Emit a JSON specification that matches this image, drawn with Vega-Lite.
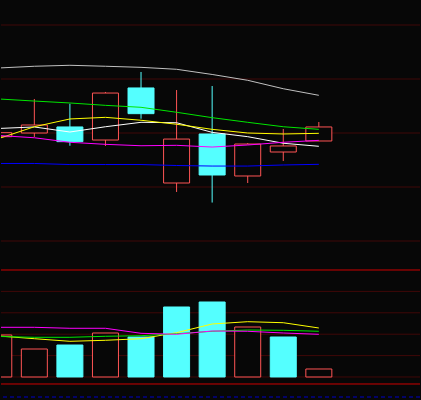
{
  "$schema": "https://vega.github.io/schema/vega-lite/v6.json",
  "width": 421,
  "height": 400,
  "autosize": {"type": "fit", "contains": "padding"},
  "padding": 0,
  "background": "#070707",
  "config": {"view": {"stroke": null}, "scale": {"continuousPadding": 0}},
  "datasets": {
    "candles": [
      {"i": 0, "open": 9.966, "high": 10.006, "low": 9.960, "close": 10.003, "vol": 1963, "dir": "up", "vdir": "up"},
      {"i": 1, "open": 10.000, "high": 10.315, "low": 9.963, "close": 10.074, "vol": 1308, "dir": "up", "vdir": "up"},
      {"i": 2, "open": 10.056, "high": 10.271, "low": 9.882, "close": 9.920, "vol": 1495, "dir": "down", "vdir": "down"},
      {"i": 3, "open": 9.935, "high": 10.380, "low": 9.880, "close": 10.370, "vol": 2056, "dir": "up", "vdir": "up"},
      {"i": 4, "open": 10.417, "high": 10.565, "low": 10.132, "close": 10.179, "vol": 1869, "dir": "down", "vdir": "down"},
      {"i": 5, "open": 9.537, "high": 10.398, "low": 9.454, "close": 9.944, "vol": 3271, "dir": "up", "vdir": "down"},
      {"i": 6, "open": 9.991, "high": 10.435, "low": 9.356, "close": 9.611, "vol": 3505, "dir": "down", "vdir": "down"},
      {"i": 7, "open": 9.602, "high": 9.907, "low": 9.537, "close": 9.898, "vol": 2336, "dir": "up", "vdir": "up"},
      {"i": 8, "open": 9.824, "high": 10.037, "low": 9.741, "close": 9.880, "vol": 1869, "dir": "up", "vdir": "down"},
      {"i": 9, "open": 9.926, "high": 10.102, "low": 9.926, "close": 10.056, "vol": 374, "dir": "up", "vdir": "up"}
    ],
    "ma": [
      {"i": 0, "MA5": 10.042, "MA10": 9.949, "MA20": 9.977, "MA30": 10.315, "MA60": 10.602, "MA120": 9.718},
      {"i": 1, "MA5": 10.056, "MA10": 10.058, "MA20": 9.956, "MA30": 10.296, "MA60": 10.618, "MA120": 9.718},
      {"i": 2, "MA5": 10.009, "MA10": 10.130, "MA20": 9.914, "MA30": 10.278, "MA60": 10.627, "MA120": 9.708},
      {"i": 3, "MA5": 10.058, "MA10": 10.145, "MA20": 9.895, "MA30": 10.256, "MA60": 10.618, "MA120": 9.708},
      {"i": 4, "MA5": 10.099, "MA10": 10.118, "MA20": 9.882, "MA30": 10.238, "MA60": 10.608, "MA120": 9.708},
      {"i": 5, "MA5": 10.095, "MA10": 10.081, "MA20": 9.886, "MA30": 10.192, "MA60": 10.590, "MA120": 9.699},
      {"i": 6, "MA5": 10.006, "MA10": 10.034, "MA20": 9.870, "MA30": 10.142, "MA60": 10.542, "MA120": 9.694},
      {"i": 7, "MA5": 9.966, "MA10": 10.000, "MA20": 9.889, "MA30": 10.099, "MA60": 10.488, "MA120": 9.694},
      {"i": 8, "MA5": 9.905, "MA10": 9.991, "MA20": 9.914, "MA30": 10.058, "MA60": 10.410, "MA120": 9.704},
      {"i": 9, "MA5": 9.877, "MA10": 9.997, "MA20": 9.932, "MA30": 10.034, "MA60": 10.349, "MA120": 9.710}
    ],
    "vma": [
      {"i": 0, "VMA5": 1916, "VMA10": 1893, "VMA20": 2322},
      {"i": 1, "VMA5": 1790, "VMA10": 1855, "VMA20": 2322},
      {"i": 2, "VMA5": 1668, "VMA10": 1855, "VMA20": 2276},
      {"i": 3, "VMA5": 1715, "VMA10": 1902, "VMA20": 2276},
      {"i": 4, "VMA5": 1790, "VMA10": 1930, "VMA20": 2042},
      {"i": 5, "VMA5": 2070, "VMA10": 2023, "VMA20": 1995},
      {"i": 6, "VMA5": 2477, "VMA10": 2136, "VMA20": 2150},
      {"i": 7, "VMA5": 2584, "VMA10": 2196, "VMA20": 2136},
      {"i": 8, "VMA5": 2537, "VMA10": 2182, "VMA20": 2056},
      {"i": 9, "VMA5": 2290, "VMA10": 2136, "VMA20": 1995}
    ],
    "pgrid": [{"p": 11.0}, {"p": 10.5}, {"p": 10.0}, {"p": 9.5}, {"p": 9.0}],
    "vgrid": [{"v": 0}, {"v": 1000}, {"v": 2000}, {"v": 3000}, {"v": 4000}],
    "vframe": [{"v": 5000}, {"v": -327}]
  },
  "layer": [
    {
      "layer": [
        {
          "data": {"name": "pgrid"},
          "mark": {"type": "rule", "color": "#400808", "strokeWidth": 1},
          "encoding": {
            "y": {"field": "p", "type": "quantitative", "axis": null, "scale": {"domain": [7.5278, 11.2315], "nice": false, "zero": false}}
          }
        },
        {
          "data": {"name": "candles"},
          "mark": {"type": "rule", "strokeWidth": 1, "clip": true},
          "encoding": {
            "x": {"field": "i", "type": "quantitative", "axis": null, "scale": {"domain": [0.0624, 11.845], "nice": false, "zero": false, "padding": 0}},
            "y": {"field": "low", "type": "quantitative", "axis": null, "scale": {"domain": [7.5278, 11.2315], "nice": false, "zero": false}},
            "y2": {"field": "high"},
            "stroke": {"field": "dir", "type": "nominal", "legend": null, "scale": {"domain": ["up", "down"], "range": ["#ff5555", "#54ffff"]}}
          }
        },
        {
          "data": {"name": "candles"},
          "mark": {"type": "bar", "size": 26, "strokeWidth": 1, "clip": true},
          "encoding": {
            "x": {"field": "i", "type": "quantitative", "axis": null, "scale": {"domain": [0.0624, 11.845], "nice": false, "zero": false, "padding": 0}},
            "y": {"field": "open", "type": "quantitative", "axis": null, "scale": {"domain": [7.5278, 11.2315], "nice": false, "zero": false}},
            "y2": {"field": "close"},
            "fill": {"field": "dir", "type": "nominal", "legend": null, "scale": {"domain": ["up", "down"], "range": ["#070707", "#54ffff"]}},
            "stroke": {"field": "dir", "type": "nominal", "legend": null, "scale": {"domain": ["up", "down"], "range": ["#ff5555", "#54ffff"]}}
          }
        },
        {
          "data": {"name": "ma"},
          "transform": [{"fold": ["MA5", "MA10", "MA20", "MA30", "MA60", "MA120"], "as": ["series", "value"]}],
          "mark": {"type": "line", "strokeWidth": 1, "clip": true},
          "encoding": {
            "x": {"field": "i", "type": "quantitative", "axis": null, "scale": {"domain": [0.0624, 11.845], "nice": false, "zero": false, "padding": 0}},
            "y": {"field": "value", "type": "quantitative", "axis": null, "scale": {"domain": [7.5278, 11.2315], "nice": false, "zero": false}},
            "color": {"field": "series", "type": "nominal", "legend": null, "scale": {"domain": ["MA5", "MA10", "MA20", "MA30", "MA60", "MA120", "VMA5", "VMA10", "VMA20"], "range": ["#ffffff", "#ffff00", "#ff00ff", "#00e600", "#c0c0c0", "#0000ff", "#ffff00", "#00e600", "#ff00ff"]}}
          }
        }
      ]
    },
    {
      "layer": [
        {
          "data": {"name": "vgrid"},
          "mark": {"type": "rule", "color": "#400808", "strokeWidth": 1},
          "encoding": {
            "y": {"field": "v", "type": "quantitative", "axis": null, "scale": {"domain": [-1075, 17617], "nice": false, "zero": false}}
          }
        },
        {
          "data": {"name": "vframe"},
          "mark": {"type": "rule", "color": "#cc0000", "strokeWidth": 1},
          "encoding": {
            "y": {"field": "v", "type": "quantitative", "axis": null, "scale": {"domain": [-1075, 17617], "nice": false, "zero": false}}
          }
        },
        {
          "data": {"values": [{"v": -935}]},
          "mark": {"type": "rule", "color": "#0000c8", "strokeWidth": 1, "strokeDash": [4, 3]},
          "encoding": {
            "y": {"field": "v", "type": "quantitative", "axis": null, "scale": {"domain": [-1075, 17617], "nice": false, "zero": false}}
          }
        },
        {
          "data": {"name": "candles"},
          "mark": {"type": "bar", "size": 26, "strokeWidth": 1, "clip": true},
          "encoding": {
            "x": {"field": "i", "type": "quantitative", "axis": null, "scale": {"domain": [0.0624, 11.845], "nice": false, "zero": false, "padding": 0}},
            "y": {"field": "vol", "type": "quantitative", "axis": null, "scale": {"domain": [-1075, 17617], "nice": false, "zero": false}},
            "y2": {"datum": 0},
            "fill": {"field": "vdir", "type": "nominal", "legend": null, "scale": {"domain": ["up", "down"], "range": ["#070707", "#54ffff"]}},
            "stroke": {"field": "vdir", "type": "nominal", "legend": null, "scale": {"domain": ["up", "down"], "range": ["#ff5555", "#54ffff"]}}
          }
        },
        {
          "data": {"name": "vma"},
          "transform": [{"fold": ["VMA5", "VMA10", "VMA20"], "as": ["series", "value"]}],
          "mark": {"type": "line", "strokeWidth": 1, "clip": true},
          "encoding": {
            "x": {"field": "i", "type": "quantitative", "axis": null, "scale": {"domain": [0.0624, 11.845], "nice": false, "zero": false, "padding": 0}},
            "y": {"field": "value", "type": "quantitative", "axis": null, "scale": {"domain": [-1075, 17617], "nice": false, "zero": false}},
            "color": {"field": "series", "type": "nominal", "legend": null, "scale": {"domain": ["MA5", "MA10", "MA20", "MA30", "MA60", "MA120", "VMA5", "VMA10", "VMA20"], "range": ["#ffffff", "#ffff00", "#ff00ff", "#00e600", "#c0c0c0", "#0000ff", "#ffff00", "#00e600", "#ff00ff"]}}
          }
        }
      ],
      "resolve": {"scale": {"y": "shared"}}
    }
  ],
  "resolve": {"scale": {"y": "independent"}}
}
